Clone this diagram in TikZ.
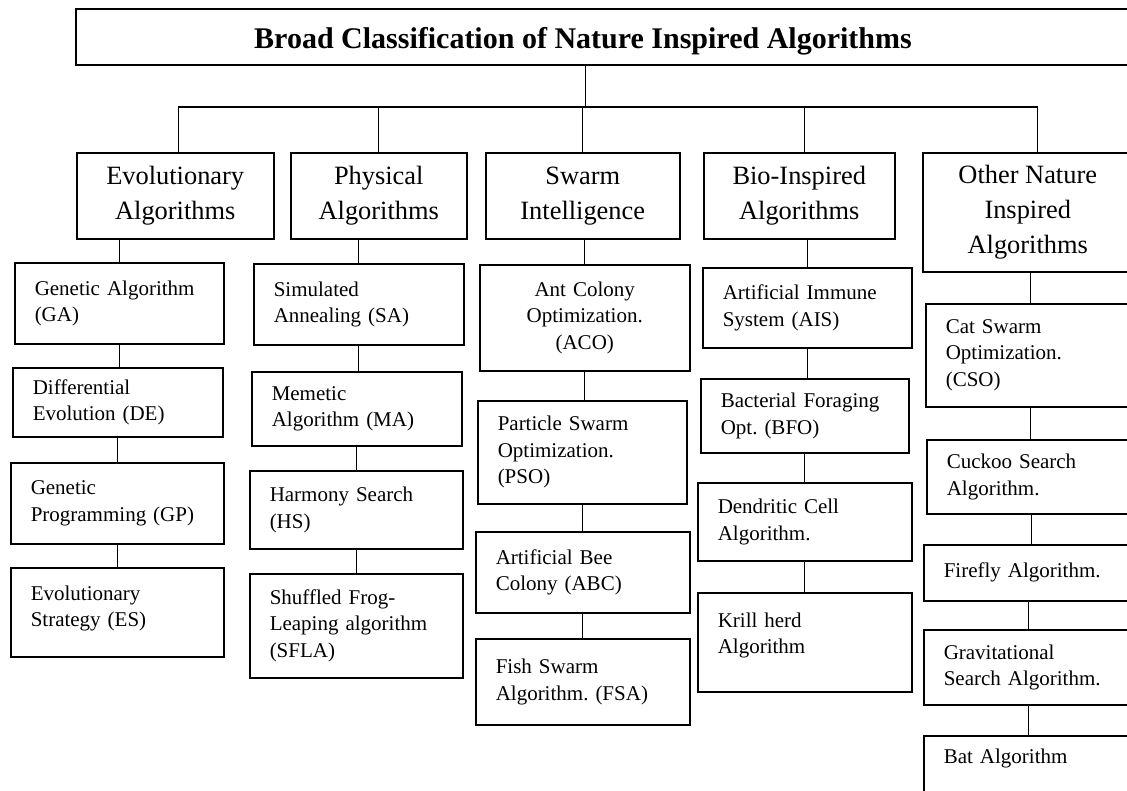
\documentclass[tikz,border=0pt]{standalone}
\usepackage{fontspec}
\setmainfont{Liberation Serif}
\frenchspacing

\tikzset{
  titlebox/.style={draw, line width=1.5pt, anchor=north west, inner sep=0pt},
  groupbox/.style={draw, line width=1.5pt, align=center, anchor=north west, inner sep=0pt,
    font=\fontsize{26.4}{35}\selectfont},
  algbox/.style={draw, line width=1.5pt, align=left, anchor=north west, inner xsep=20pt, inner ysep=0pt,
    font=\fontsize{21}{26.5}\selectfont},
  link/.style={line width=1.3pt}
}

\begin{document}
\begin{tikzpicture}[x=1pt,y=1pt,yscale=-1,xscale=1]
    \useasboundingbox (0,0) rectangle (1127,790);
    \clip (0,0) rectangle (1127,790);

    % Title
    \node[titlebox, minimum width=1120pt, minimum height=56pt] (title) at (75,8) {};
    \node[anchor=base, font=\fontsize{30}{36}\selectfont\bfseries] (titletext) at (583,48)
        {Broad Classification of Nature Inspired Algorithms};

    % Groups
    \node[groupbox, minimum width=197pt, minimum height=86pt] (evo) at (76,152) {Evolutionary\\Algorithms};
    \node[groupbox, minimum width=176pt, minimum height=86pt] (phys) at (290,152) {Physical\\Algorithms};
    \node[groupbox, minimum width=194pt, minimum height=86pt] (swarm) at (485,152) {Swarm\\Intelligence};
    \node[groupbox, minimum width=191pt, minimum height=86pt] (bio) at (703,152) {Bio-Inspired\\Algorithms};
    \node[groupbox, minimum width=210pt, minimum height=119pt] (other) at (922,152) {Other Nature\\Inspired\\Algorithms};

    % Evolutionary column
    \node[algbox, text width=169pt, minimum height=81pt] (ga) at (14,262) {Genetic Algorithm\\(GA)};
    \node[algbox, text width=170pt, minimum height=69pt] (de) at (12,367) {Differential\\Evolution (DE)};
    \node[algbox, text width=173pt, minimum height=81pt] (gp) at (10,462) {Genetic\\Programming (GP)};
    \node[algbox, text width=173pt, minimum height=89pt] (es) at (10,567) {Evolutionary\\Strategy (ES)\\[-14pt]\mbox{}};

    % Physical column
    \node[algbox, text width=170pt, minimum height=81pt] (sa) at (253,263) {Simulated\\Annealing (SA)};
    \node[algbox, text width=170pt, minimum height=74pt] (ma) at (251,371) {Memetic\\Algorithm (MA)};
    \node[algbox, text width=173pt, minimum height=78pt] (hs) at (249,470) {Harmony Search\\(HS)};
    \node[algbox, text width=173pt, minimum height=104pt] (sfla) at (249,573) {Shuffled Frog-\\Leaping algorithm\\(SFLA)};

    % Swarm column
    \node[algbox, align=center, text width=170pt, minimum height=106pt] (aco) at (479,264) {Ant Colony\\Optimization.\\(ACO)};
    \node[algbox, text width=169pt, minimum height=103pt] (pso) at (477,400) {Particle Swarm\\Optimization.\\(PSO)};
    \node[algbox, text width=174pt, minimum height=81pt] (abc) at (475,531) {Artificial Bee\\Colony (ABC)};
    \node[algbox, text width=174pt, minimum height=86pt] (fsa) at (475,638) {Fish Swarm\\Algorithm. (FSA)};

    % Bio-inspired column
    \node[algbox, text width=169pt, minimum height=80pt] (ais) at (702,267) {Artificial Immune\\System (AIS)};
    \node[algbox, text width=168pt, minimum height=74pt] (bfo) at (700,378) {Bacterial Foraging\\Opt. (BFO)};
    \node[algbox, text width=174pt, minimum height=78pt] (dca) at (697,482) {Dendritic Cell\\Algorithm.};
    \node[algbox, text width=174pt, minimum height=99pt] (krill) at (697,592) {Krill herd\\Algorithm\\[-8pt]\mbox{}};

    % Other column
    \node[algbox, text width=170pt, minimum height=103pt] (cso) at (925,303) {Cat Swarm\\Optimization.\\(CSO)};
    \node[algbox, text width=170pt, minimum height=74pt] (cuckoo) at (926,439) {Cuckoo Search\\Algorithm.};
    \node[algbox, text width=170pt, minimum height=56pt] (firefly) at (923,544) {Firefly Algorithm.};
    \node[algbox, text width=170pt, minimum height=75pt] (grav) at (923,629) {Gravitational\\Search Algorithm.};
    \node[algbox, text width=170pt, text height=28pt, text depth=70pt] (bat) at (923,735) {Bat Algorithm};

    % Tree lines
    \coordinate (bus) at (585,107);
    \draw[line width=0.9pt] (bus |- title.south) -- (bus);
    \draw[link] ([xshift=3.5pt]evo.north) |- (bus) -| ([xshift=10pt]other.north);
    \draw[link] (phys.north |- bus) -- (phys.north);
    \draw[link] (swarm.north |- bus) -- (swarm.north);
    \draw[link] ([xshift=5.5pt]bio.north |- bus) -- ([xshift=5.5pt]bio.north);

    \foreach \g/\c in {evo/ga, phys/sa, swarm/aco, bio/ais, other/cso}
        \draw[link] (\c.north |- \g.south) -- (\c.north);

    \foreach \a/\b in {ga/de, de/gp, gp/es, sa/ma, ma/hs, hs/sfla, aco/pso, pso/abc, abc/fsa,
                       ais/bfo, bfo/dca, dca/krill, cso/cuckoo, cuckoo/firefly, firefly/grav, grav/bat}
        \draw[link] (\a.south) -- (\a.south |- \b.north);

\end{tikzpicture}
\end{document}
